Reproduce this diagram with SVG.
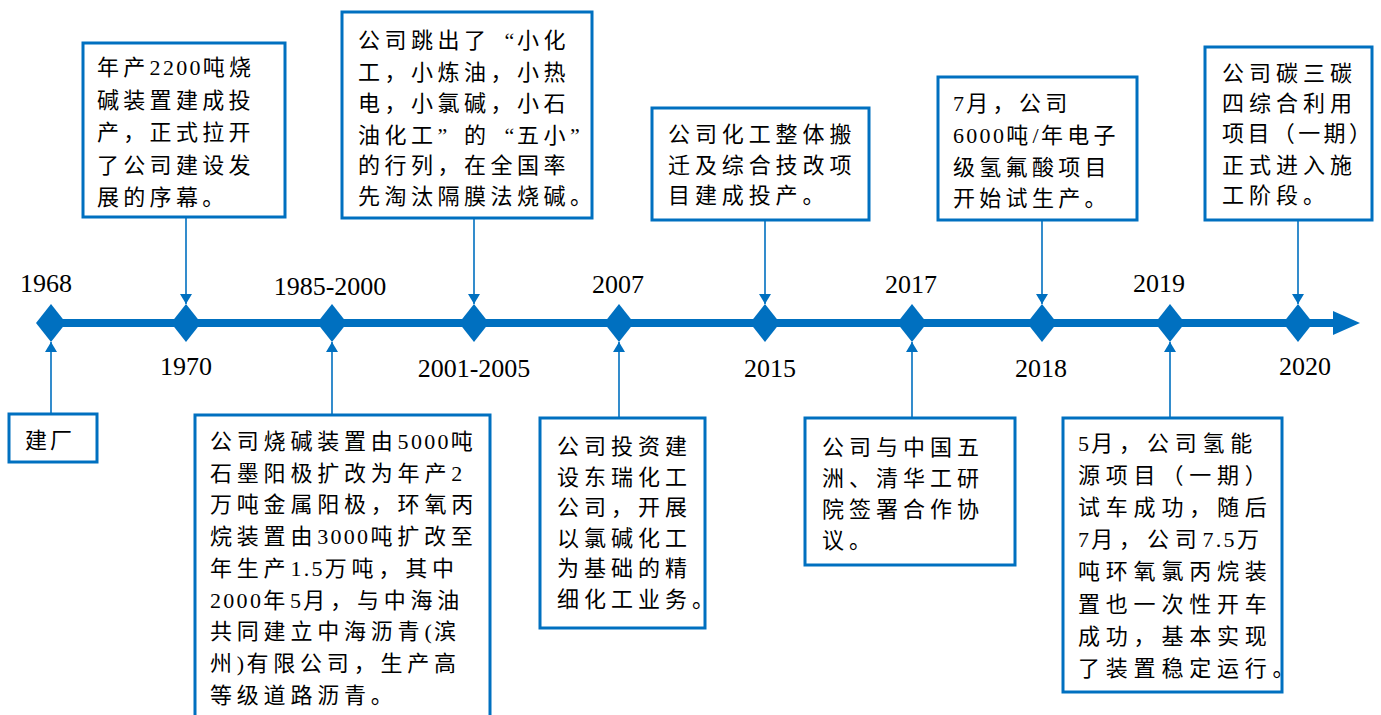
<svg xmlns="http://www.w3.org/2000/svg" width="1381" height="715" viewBox="0 0 1381 715">
<defs>
<style>
.box{fill:#fff;stroke:#0070C0;stroke-width:3}
.t{font-family:"Liberation Serif","Noto Sans CJK SC",serif;font-size:22px;letter-spacing:4.8px;fill:#000}
.n{letter-spacing:2.3px}
.ql{font-family:"Liberation Serif",serif;letter-spacing:2.7px}
.qr{font-family:"Liberation Serif",serif;letter-spacing:16.7px}
.yr{font-family:"Liberation Serif",serif;font-size:26px;fill:#000;text-anchor:middle}
.con{stroke:#0070C0;stroke-width:1.6;fill:none;marker-end:url(#ah)}
.dia{fill:#0070C0}
</style>
<marker id="ah" viewBox="0 0 10 12" refX="10" refY="6" markerWidth="10" markerHeight="12" markerUnits="userSpaceOnUse" orient="auto">
<path d="M0,0 L10,6 L0,12 z" fill="#0070C0"/>
</marker>
</defs>

<g id="timeline">
<line x1="51" y1="323" x2="1336" y2="323" stroke="#0070C0" stroke-width="8"/>
<polygon points="1333,311 1360,323 1333,335" fill="#0070C0"/>
<polygon class="dia" points="51,304 66,323 51,342 36,323"/>
<polygon class="dia" points="186,304 201,323 186,342 171,323"/>
<polygon class="dia" points="332,304 347,323 332,342 317,323"/>
<polygon class="dia" points="474,304 489,323 474,342 459,323"/>
<polygon class="dia" points="619,304 634,323 619,342 604,323"/>
<polygon class="dia" points="765,304 780,323 765,342 750,323"/>
<polygon class="dia" points="912,304 927,323 912,342 897,323"/>
<polygon class="dia" points="1042,304 1057,323 1042,342 1027,323"/>
<polygon class="dia" points="1170,304 1185,323 1170,342 1155,323"/>
<polygon class="dia" points="1298,304 1313,323 1298,342 1283,323"/>
</g>

<g id="years">
<text class="yr" x="46" y="292">1968</text>
<text class="yr" x="186" y="375">1970</text>
<text class="yr" x="330" y="295">1985-2000</text>
<text class="yr" x="474" y="377">2001-2005</text>
<text class="yr" x="618" y="293">2007</text>
<text class="yr" x="770" y="377">2015</text>
<text class="yr" x="911" y="293">2017</text>
<text class="yr" x="1041" y="377">2018</text>
<text class="yr" x="1159" y="292">2019</text>
<text class="yr" x="1305" y="375">2020</text>
</g>

<g id="connectors">
<line class="con" x1="51" y1="414" x2="51" y2="342"/>
<line class="con" x1="186" y1="217" x2="186" y2="304"/>
<line class="con" x1="332" y1="415" x2="332" y2="342"/>
<line class="con" x1="474" y1="218" x2="474" y2="304"/>
<line class="con" x1="619" y1="418" x2="619" y2="342"/>
<line class="con" x1="765" y1="220" x2="765" y2="304"/>
<line class="con" x1="912" y1="418" x2="912" y2="342"/>
<line class="con" x1="1042" y1="220" x2="1042" y2="304"/>
<line class="con" x1="1170" y1="418" x2="1170" y2="342"/>
<line class="con" x1="1298" y1="220" x2="1298" y2="304"/>
</g>

<g id="n1968">
<rect class="box" x="9" y="414" width="88" height="48"/>
<text class="t" x="25" y="448" style="letter-spacing:3px">建厂</text>
</g>

<g id="n1970">
<rect class="box" x="83" y="43" width="202" height="174"/>
<text class="t" style="letter-spacing:4.3px">
<tspan x="97" y="75">年产<tspan class="n">2200</tspan>吨烧</tspan>
<tspan x="97" y="107.5">碱装置建成投</tspan>
<tspan x="97" y="140">产，正式拉开</tspan>
<tspan x="97" y="172.5">了公司建设发</tspan>
<tspan x="97" y="205">展的序幕。</tspan>
</text>
</g>

<g id="n1985">
<rect class="box" x="195" y="415" width="295" height="310"/>
<text class="t">
<tspan x="210" y="449">公司烧碱装置由<tspan class="n">5000</tspan>吨</tspan>
<tspan x="210" y="480.7">石墨阳极扩改为年产<tspan class="n">2</tspan></tspan>
<tspan x="210" y="512.4">万吨金属阳极，环氧丙</tspan>
<tspan x="210" y="544">烷装置由<tspan class="n">3000</tspan>吨扩改至</tspan>
<tspan x="210" y="575.8">年生产<tspan class="n">1.5</tspan>万吨，其中</tspan>
<tspan x="210" y="607.5"><tspan class="n">2000</tspan>年<tspan class="n">5</tspan>月，与中海油</tspan>
<tspan x="210" y="639">共同建立中海沥青<tspan class="n">(</tspan>滨</tspan>
<tspan x="210" y="671">州<tspan class="n">)</tspan>有限公司，生产高</tspan>
<tspan x="210" y="702.6">等级道路沥青。</tspan>
</text>
</g>

<g id="n2001">
<rect class="box" x="342" y="12" width="250" height="206"/>
<text class="t" style="letter-spacing:4.5px">
<tspan x="358" y="48">公司跳出了<tspan class="ql" dx="14">“</tspan>小化</tspan>
<tspan x="358" y="79.5">工，小炼油，小热</tspan>
<tspan x="358" y="111">电，小氯碱，小石</tspan>
<tspan x="358" y="142.5">油化工<tspan class="qr">”</tspan>的<tspan class="ql" dx="14">“</tspan>五小<tspan class="qr">”</tspan></tspan>
<tspan x="358" y="173">的行列，在全国率</tspan>
<tspan x="358" y="203.5">先淘汰隔膜法烧碱。</tspan>
</text>
</g>

<g id="n2007">
<rect class="box" x="540" y="418" width="165" height="210"/>
<text class="t" style="letter-spacing:5px">
<tspan x="557" y="454">公司投资建</tspan>
<tspan x="557" y="484.5">设东瑞化工</tspan>
<tspan x="557" y="515">公司，开展</tspan>
<tspan x="557" y="545.5">以氯碱化工</tspan>
<tspan x="557" y="576">为基础的精</tspan>
<tspan x="557" y="606.5">细化工业务。</tspan>
</text>
</g>

<g id="n2015">
<rect class="box" x="652" y="108" width="217" height="112"/>
<text class="t" style="letter-spacing:4.9px">
<tspan x="668" y="142">公司化工整体搬</tspan>
<tspan x="668" y="173">迁及综合技改项</tspan>
<tspan x="668" y="203">目建成投产。</tspan>
</text>
</g>

<g id="n2017">
<rect class="box" x="805" y="418" width="210" height="147"/>
<text class="t" style="letter-spacing:5px">
<tspan x="822" y="455">公司与中国五</tspan>
<tspan x="822" y="486">洲、清华工研</tspan>
<tspan x="822" y="517">院签署合作协</tspan>
<tspan x="822" y="548">议。</tspan>
</text>
</g>

<g id="n2018">
<rect class="box" x="938" y="77" width="199" height="143"/>
<text class="t" style="letter-spacing:4.3px">
<tspan x="953" y="111"><tspan class="n">7</tspan>月，公司</tspan>
<tspan x="953" y="143"><tspan class="n">6000</tspan>吨<tspan class="n">/</tspan>年电子</tspan>
<tspan x="953" y="175">级氢氟酸项目</tspan>
<tspan x="953" y="206">开始试生产。</tspan>
</text>
</g>

<g id="n2019">
<rect class="box" x="1063" y="418" width="219" height="274"/>
<text class="t" style="letter-spacing:5.8px">
<tspan x="1078" y="451"><tspan class="n">5</tspan>月，公司氢能</tspan>
<tspan x="1078" y="483">源项目（一期）</tspan>
<tspan x="1078" y="515">试车成功，随后</tspan>
<tspan x="1078" y="547"><tspan class="n">7</tspan>月，公司<tspan class="n">7.5</tspan>万</tspan>
<tspan x="1078" y="579">吨环氧氯丙烷装</tspan>
<tspan x="1078" y="611.5">置也一次性开车</tspan>
<tspan x="1078" y="644">成功，基本实现</tspan>
<tspan x="1078" y="676">了装置稳定运行。</tspan>
</text>
</g>

<g id="n2020">
<rect class="box" x="1205" y="47" width="167" height="173"/>
<text class="t" style="letter-spacing:5px">
<tspan x="1222" y="81">公司碳三碳</tspan>
<tspan x="1222" y="111">四综合利用</tspan>
<tspan x="1222" y="141" style="letter-spacing:3.4px">项目（一期）</tspan>
<tspan x="1222" y="173">正式进入施</tspan>
<tspan x="1222" y="203">工阶段。</tspan>
</text>
</g>
</svg>
